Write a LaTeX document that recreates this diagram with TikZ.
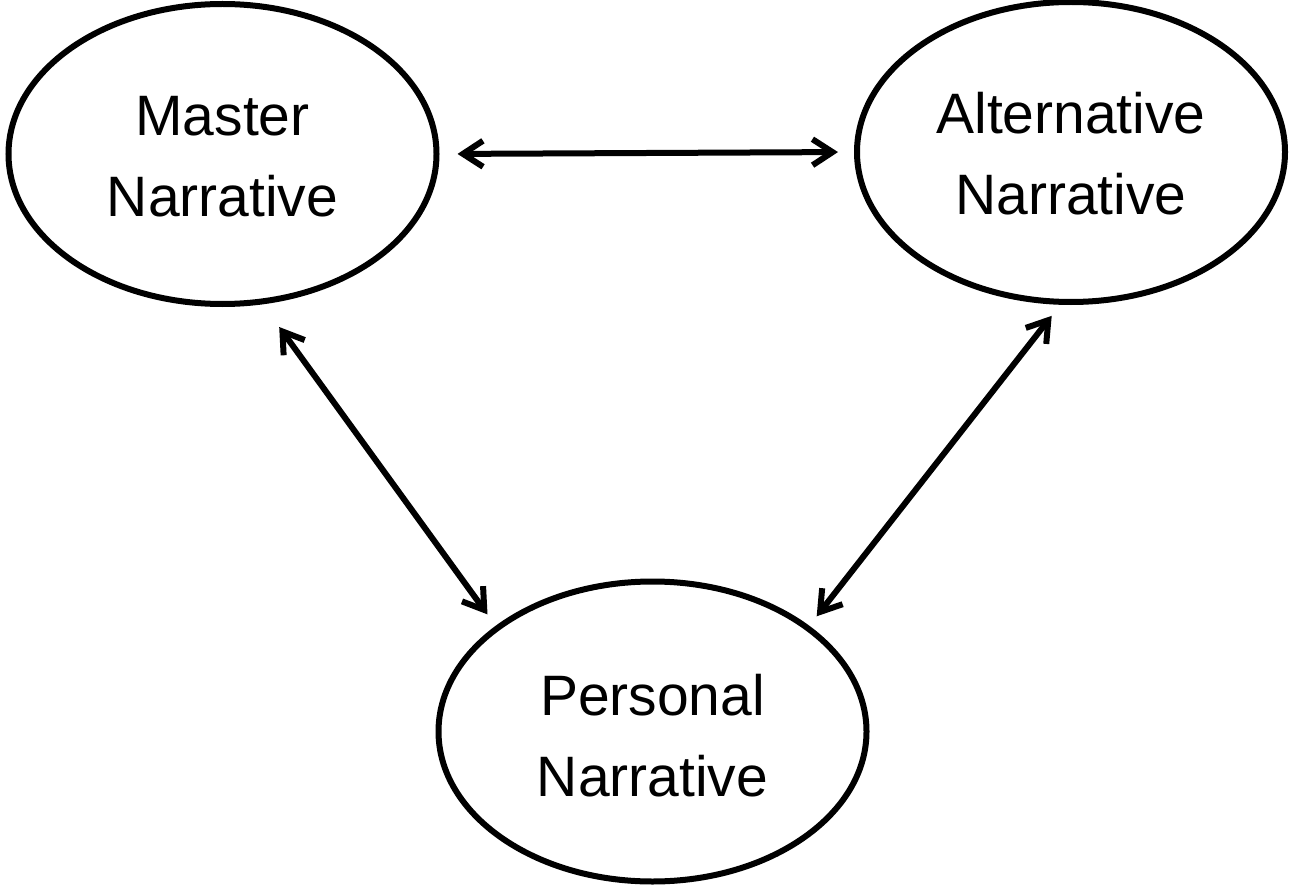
\documentclass[tikz,border=0pt]{standalone}
\usepackage{fontspec}
\setmainfont{Liberation Sans}
\usetikzlibrary{arrows.meta,shapes.geometric}
\newcommand\lowr[2]{\raisebox{-#1}[\height][\depth]{#2}}
\tikzset{
  narr/.style={ellipse, draw=black, line width=6pt, inner sep=0pt,
    minimum width=428pt, minimum height=300pt, align=center,
    font=\fontsize{57}{81}\selectfont},
  biarrow/.style={line width=6pt, line cap=round,
    {Straight Barb[length=20pt,width=26pt]}-{Straight Barb[length=20pt,width=26pt]}}
}
\begin{document}
\begin{tikzpicture}[x=1pt,y=-1pt]
\useasboundingbox (0,0) rectangle (1289,885);
\node[narr] (m) at (222.5,154) {\lowr{3pt}{Master}\\\lowr{3pt}{Narrative}};
\node[narr] (a) at (1071,152) {\lowr{1.5pt}{Alternative}\\\lowr{1.5pt}{Narrative}};
\node[narr] (p) at (652.5,731.5) {\lowr{4pt}{Personal}\\\lowr{4pt}{Narrative}};
\draw[biarrow, shorten <=18pt, shorten >=16pt] (m.-0.3) -- (a.180.8);
\draw[biarrow, shorten <=28pt, shorten >=14pt] (m.-75) -- (p.146.6);
\draw[biarrow, shorten <=14pt, shorten >=12pt] (a.-94.7) -- (p.34.1);
\end{tikzpicture}
\end{document}
